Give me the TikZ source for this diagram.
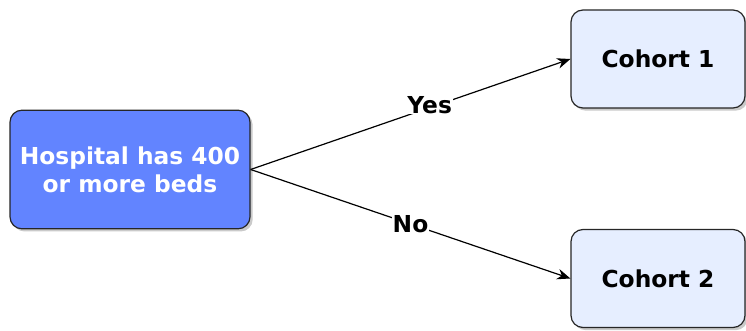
\documentclass[tikz,border=0pt]{standalone}
\usepackage{fontspec}
\setmainfont{DejaVu Sans}
\usetikzlibrary{shadows,arrows.meta}

\definecolor{hospblue}{RGB}{98,132,255}
\definecolor{cohortfill}{RGB}{230,238,255}

\tikzset{
  box/.style={draw=black!85, line width=0.9pt, rounded corners=9pt,
    align=center, font=\bfseries\fontsize{17.5}{21}\selectfont,
    drop shadow={shadow xshift=2pt, shadow yshift=-2pt, fill=black!35, opacity=0.6}},
  lbl/.style={fill=white, inner sep=0.5pt, font=\bfseries\fontsize{17.5}{19}\selectfont},
  link/.style={-{Stealth[length=10pt, width=8pt]}, line width=0.9pt}
}

\begin{document}
\begin{tikzpicture}[x=0.75pt, y=0.75pt]

  \useasboundingbox (0,0) rectangle (746,-331);

  \node[box, fill=hospblue, text=white, minimum width=180pt, minimum height=89pt] (hosp) at (130,-169.5) {Hospital has 400\\or more beds};
  \node[box, fill=cohortfill, minimum width=130.5pt, minimum height=73.5pt] (c1) at (658,-59) {Cohort 1};
  \node[box, fill=cohortfill, minimum width=130.5pt, minimum height=73.5pt] (c2) at (658,-278.5) {Cohort 2};

  \draw[link] (hosp.east) -- node[lbl, pos=0.56, yshift=2pt] {Yes} (c1.west);
  \draw[link] (hosp.east) -- node[lbl, pos=0.5] {No} (c2.west);

\end{tikzpicture}
\end{document}
